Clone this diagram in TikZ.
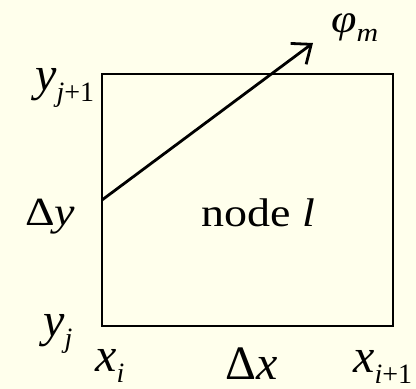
\documentclass[tikz,border=0pt]{standalone}
\usepackage{graphicx}
\usepackage{fontspec}
\setmainfont{Liberation Serif}
\usetikzlibrary{arrows.meta}
\definecolor{paper}{RGB}{255,255,236}
\newcommand{\lbsub}[1]{\raisebox{-11pt}{\fontsize{28}{28}\selectfont #1}}
\newcommand{\wide}[1]{\scalebox{1.15}[1]{#1}}

\begin{document}
\begin{tikzpicture}[x=1pt, y=-1pt,
	big/.style={anchor=base west, inner sep=0pt, font=\fontsize{48}{48}\selectfont},
	small/.style={anchor=base west, inner sep=0pt, font=\fontsize{40}{40}\selectfont},
	flow/.style={line width=2.8pt, -{Straight Barb[length=16pt,width=26pt]}}]

\fill[paper] (0,0) rectangle (416,389);
\useasboundingbox (0,0) rectangle (416,389);

% the cell
\node[draw, line width=2.8pt, inner sep=0pt, outer sep=0pt,
	minimum width=291pt, minimum height=252pt] (cell) at (247.5,200) {};
\node[small] (nl) at (201,226) {\wide{node \textit{l}}};

% edges of the cell
\node[big] (yt) at (35,90) {\textit{y}\lbsub{\textit{j}+1}};
\node[big] (yb) at (43,336) {\textit{y}\lbsub{\textit{j}}};
\node[big] (xl) at (95,371) {\textit{x}\lbsub{\textit{i}}};
\node[big] (xr) at (353,372) {\textit{x}\lbsub{\textit{i}+1}};
\node[big] (dx) at (225,379) {Δ\textit{x}};
\node[small] (dy) at (25,225) {\wide{Δ\textit{y}}};

% direction
\coordinate (tip) at (313,43);
\draw[flow] (cell.west) -- (tip);
\node[small] (phi) at (331,32) {\wide{\textit{φ}\raisebox{-9pt}{\fontsize{26}{26}\selectfont\textit{m}}}};

\end{tikzpicture}
\end{document}
